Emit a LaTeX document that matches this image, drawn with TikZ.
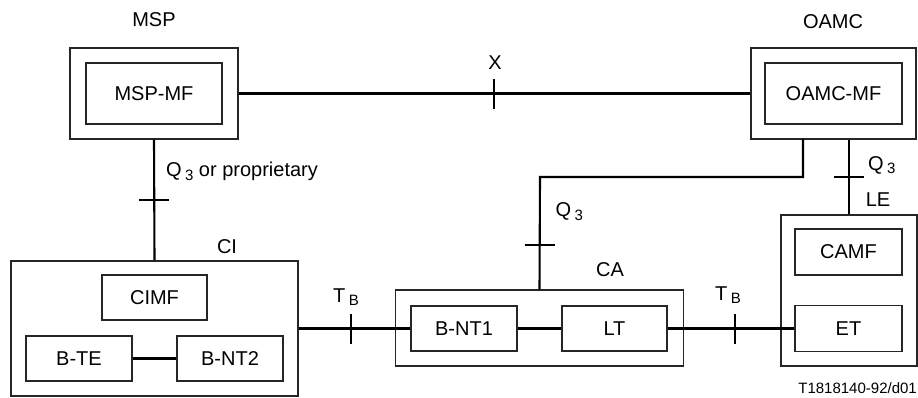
\documentclass[tikz,border=0pt]{standalone}
\usepackage{fontspec}
\setmainfont{Liberation Sans}
\begin{document}
\begin{tikzpicture}[x=1pt,y=-1pt,
  box/.style={draw=black!85, line width=1.1pt, inner sep=0pt, font=\fontsize{20}{24}\selectfont},
  conn/.style={line width=2.1pt, black},
  lbl/.style={inner sep=0pt, font=\fontsize{20}{24}\selectfont},
  foot/.style={inner sep=0pt, font=\fontsize{15}{18}\selectfont}]
\newcommand{\sbs}[1]{\,\raisebox{-0.35ex}{\fontsize{15}{15}\selectfont #1}}
\useasboundingbox (0,0) rectangle (918,397);
% boxes
\node[box, minimum width=168pt, minimum height=91pt] (msp) at (154,93.5) {};
\node[box, minimum width=136pt, minimum height=61pt] (mspmf) at (154,93.5) {MSP-MF};
\node[box, minimum width=165pt, minimum height=91pt] (oamc) at (833.5,93.5) {};
\node[box, minimum width=137pt, minimum height=61pt] (oamcmf) at (833.5,93.5) {OAMC-MF};
\node[box, minimum width=287pt, minimum height=135pt] (ci) at (154.5,328.5) {};
\node[box, minimum width=105pt, minimum height=45pt] (cimf) at (154.5,297.5) {CIMF};
\node[box, minimum width=106pt, minimum height=45pt] (bte) at (79,358.5) {B-TE};
\node[box, minimum width=106pt, minimum height=45pt] (bnt2) at (230,358.5) {B-NT2};
\node[box, minimum width=287.5pt, minimum height=76pt] (ca) at (539.5,328) {};
\node[box, minimum width=106pt, minimum height=45pt] (bnt1) at (464,328.5) {B-NT1};
\node[box, minimum width=105pt, minimum height=45pt] (lt) at (614.5,328.5) {LT};
\node[box, minimum width=136pt, minimum height=151pt] (le) at (849,290.5) {};
\node[box, minimum width=107pt, minimum height=46pt] (camf) at (848.5,252) {CAMF};
\node[box, minimum width=107pt, minimum height=46pt] (et) at (848.5,328.5) {ET};
% labels
\node[lbl] (lmsp) at (154,20) {MSP};
\node[lbl] (loamc) at (833,21.5) {OAMC};
\node[lbl] (lx) at (495,62.5) {X};
\node[lbl, anchor=west] (lq1) at (166,171.5) {Q\sbs{3} or proprietary};
\node[lbl] (lci) at (227,246.5) {CI};
\node[lbl, anchor=west] (ltb1) at (333,297) {T\sbs{B}};
\node[lbl, anchor=west] (ltb2) at (715,295) {T\sbs{B}};
\node[lbl, anchor=west] (lq2) at (555.5,211.5) {Q\sbs{3}};
\node[lbl] (lca) at (610,270) {CA};
\node[lbl, anchor=west] (lq3) at (868,165) {Q\sbs{3}};
\node[lbl] (lle) at (878,200) {LE};
\node[foot, anchor=east] (fn) at (917,388) {T1818140-92/d01};
% connectors
\draw[conn] (msp.east) -- (oamc.west);
\coordinate (tx) at (494,93.5);
\draw[conn] ([yshift=-15pt]tx) -- ([yshift=15pt]tx);
\draw[conn] (msp.south) -- (ci.north);
\coordinate (tq1) at (154,200);
\draw[conn] ([xshift=-15pt]tq1) -- ([xshift=15pt]tq1);
\coordinate (oq) at (803,139);
\draw[conn] (oq) |- (540,177) -- (ca.north);
\coordinate (tq2) at (539.5,245);
\draw[conn] ([xshift=-15pt]tq2) -- ([xshift=15pt]tq2);
\draw[conn] (oamc.south -| le.north) -- (le.north);
\coordinate (tq3) at (849,177);
\draw[conn] ([xshift=-15pt]tq3) -- ([xshift=15pt]tq3);
\draw[conn] (ci.east |- bnt1.west) -- (bnt1.west);
\coordinate (tb1) at (351,328.5);
\draw[conn] ([yshift=-15pt]tb1) -- ([yshift=15pt]tb1);
\draw[conn] (bnt1.east) -- (lt.west);
\draw[conn] (lt.east) -- (et.west);
\coordinate (tb2) at (735,328.5);
\draw[conn] ([yshift=-15pt]tb2) -- ([yshift=15pt]tb2);
\draw[conn] (bte.east) -- (bnt2.west);
\end{tikzpicture}
\end{document}
